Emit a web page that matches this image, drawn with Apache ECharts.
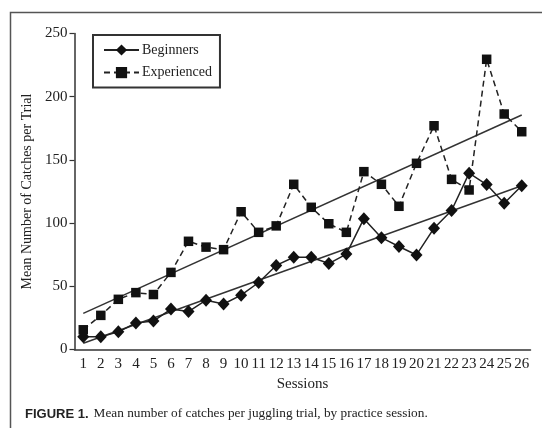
<!DOCTYPE html>
<html>
<head>
<meta charset="utf-8">
<style>
  html, body { margin: 0; padding: 0; background: #fff; }
  #box { width: 542px; height: 428px; }
</style>
<script src="https://cdn.jsdelivr.net/npm/echarts@6/dist/echarts.min.js"></script>
</head>
<body>
<div id="box"></div>
<script>
  const sessions = Array.from({ length: 26 }, (_, i) => String(i + 1));
  const beginners = [10, 10, 14, 21, 22.5, 32, 30, 39, 36, 43, 53, 66.5, 73, 73, 68, 75.5, 103.5, 88.5, 81.5, 74.8, 96, 110, 139.5, 130.5, 115.7, 129.6];
  const experienced = [15.6, 27, 39.7, 45, 43.5, 61, 85.6, 81, 79, 109, 92.7, 97.8, 130.7, 112.5, 99.5, 92.7, 140.7, 130.7, 113.3, 147.3, 177, 134.6, 126.2, 229.6, 186.3, 172.3];
  // fitted trend lines: value at session 1 and at session 26
  const trendBeginners = [5, 129.6];
  const trendExperienced = [28.6, 185.5];
  const yTicks = { min: 0, max: 250, interval: 50 };

  const ink = '#222';
  const serif = '"Liberation Serif", "DejaVu Serif", serif';

  // spread the two end values over the category axis, gaps get joined
  const trendData = (ends) => sessions.map((_, i) => (i === 0 ? ends[0] : i === sessions.length - 1 ? ends[1] : null));

  const series = [
    {
      name: 'Beginners',
      type: 'line',
      data: beginners,
      symbol: 'diamond',
      symbolSize: [12, 13],
      lineStyle: { color: ink, width: 1.5 },
      itemStyle: { color: '#111' },
      z: 4,
    },
    {
      name: 'Experienced',
      type: 'line',
      data: experienced,
      symbol: 'rect',
      symbolSize: 9.5,
      lineStyle: { color: ink, width: 1.5, type: [6, 4] },
      itemStyle: { color: '#111' },
      z: 4,
    },
    {
      name: 'trendB',
      type: 'line',
      data: trendData(trendBeginners),
      connectNulls: true,
      showSymbol: false,
      symbol: 'none',
      lineStyle: { color: '#333', width: 1.5 },
      silent: true,
      z: 3,
    },
    {
      name: 'trendE',
      type: 'line',
      data: trendData(trendExperienced),
      connectNulls: true,
      showSymbol: false,
      symbol: 'none',
      lineStyle: { color: '#333', width: 1.5 },
      silent: true,
      z: 3,
    },
  ];

  const options = {
    animation: false,
    grid: { left: 74.5, right: 11.5, top: 33.5, bottom: 78.5 },
    title: {
      text: '{b|FIGURE 1.} {r|Mean number of catches per juggling trial, by practice session.}',
      left: 25,
      top: 405,
      padding: 0,
      textStyle: {
        fontWeight: 'normal',
        rich: {
          b: { fontFamily: '"Liberation Sans", Arial, sans-serif', fontWeight: 'bold', fontSize: 13, color: '#222' },
          r: { fontFamily: serif, fontWeight: 'normal', fontSize: 13.3, color: '#222' },
        },
      },
    },
    legend: {
      data: ['Beginners', 'Experienced'],
      orient: 'vertical',
      left: 93,
      top: 35,
      padding: [8, 8, 8, 10],
      itemGap: 8.6,
      itemWidth: 35,
      itemHeight: 14,
      borderColor: '#333',
      borderWidth: 2,
      borderRadius: 0,
      textStyle: { fontFamily: serif, fontSize: 14, color: ink, padding: [0, 0, 0, -2] },
    },
    xAxis: {
      type: 'category',
      data: sessions,
      boundaryGap: true,
      name: 'Sessions',
      nameLocation: 'middle',
      nameGap: 27,
      nameTextStyle: { fontFamily: serif, fontSize: 15, color: ink, letterSpacing: 0.6 },
      axisLine: { lineStyle: { color: '#333', width: 1.5 } },
      axisTick: { length: 5, lineStyle: { color: '#333', width: 1.2 } },
      axisLabel: { interval: 0, margin: 7, fontFamily: serif, fontSize: 15, color: ink },
      splitLine: { show: false },
    },
    yAxis: {
      type: 'value',
      min: yTicks.min,
      max: yTicks.max,
      interval: yTicks.interval,
      name: 'Mean Number of Catches per Trial',
      nameLocation: 'middle',
      nameGap: 36,
      nameTextStyle: { fontFamily: serif, fontSize: 14, color: ink },
      axisLine: { show: true, lineStyle: { color: '#333', width: 1.5 } },
      axisTick: { show: true, length: 5, lineStyle: { color: '#333', width: 1.2 } },
      axisLabel: { margin: 7, fontFamily: serif, fontSize: 15, color: ink },
      splitLine: { show: false },
    },
    graphic: [
      {
        type: 'rect',
        left: 8,
        top: 10,
        shape: { width: 600, height: 500 },
        style: { fill: 'none', stroke: '#555', lineWidth: 1.5 },
        silent: true,
      },
    ],
    series,
  };

  const chart = echarts.init(document.getElementById('box'));
  chart.setOption(options);
</script>
</body>
</html>
